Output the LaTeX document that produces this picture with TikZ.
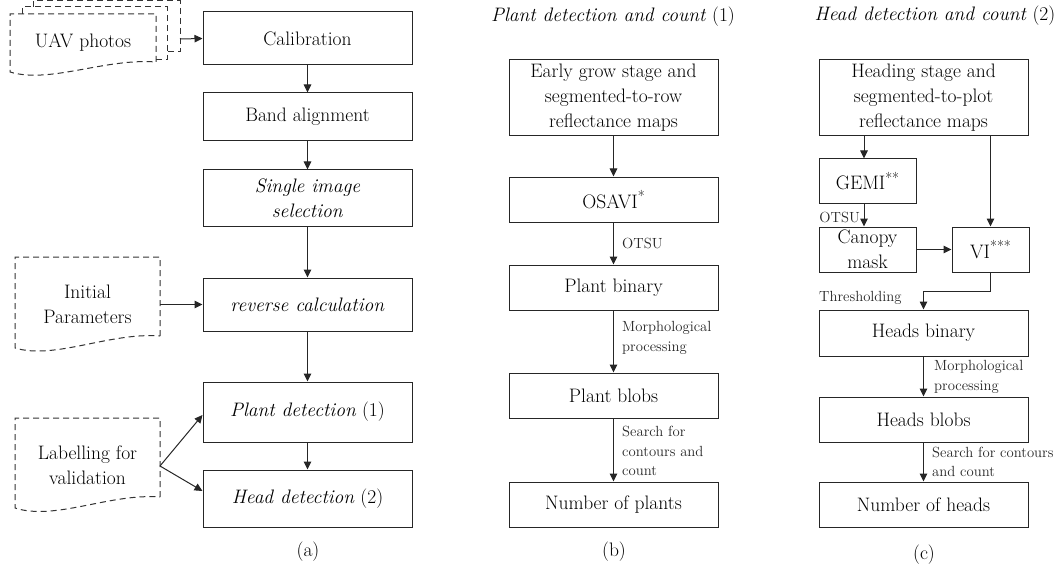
\documentclass[tikz,border=0pt]{standalone}
\usetikzlibrary{arrows.meta}
\newcommand\mainsz{\fontsize{19.5}{25}\selectfont}
\newcommand\smallsz{\fontsize{14.7}{19.5}\selectfont}
\newcommand\sst[1]{\raisebox{0.32em}{\fontsize{15}{15}\selectfont #1}}
\begin{document}
\begin{tikzpicture}[x=1pt,y=-1pt,
  box/.style={draw=black!85, line width=1pt, minimum width=209pt, inner sep=0pt, align=center, font=\mainsz},
  arr/.style={-{Triangle[length=8pt,width=7.5pt]}, line width=1pt, draw=black!85},
  lbl/.style={font=\smallsz, align=left, inner sep=0pt, text=black!85},
  txt/.style={font=\mainsz, align=center, inner sep=0pt},
  docline/.style={draw=black!80, line width=1pt, dash pattern=on 6pt off 4pt}]
\useasboundingbox (0,0) rectangle (1064,572);
% ---------- panel (a) ----------
\node[box, minimum height=53pt] (cal) at (307.5,38.5) {Calibration};
\node[box, minimum height=48pt] (band) at (307.5,117) {Band alignment};
\node[box, minimum height=56pt] (single) at (307.5,198) {\textit{Single image}\\\textit{selection}};
\node[box, minimum height=53pt] (rev) at (307.5,304.5) {\textit{reverse calculation}};
\node[box, minimum height=60pt] (plantd) at (307.5,412) {\textit{Plant detection} (1)};
\node[box, minimum height=57pt] (headd) at (307.5,498.5) {\textit{Head detection} (2)};
\node[txt] (capa) at (308,552) {(a)};
\draw[arr] (cal) -- (band);
\draw[arr] (band) -- (single);
\draw[arr] (single) -- (rev);
\draw[arr] (rev) -- (plantd);
\draw[arr] (plantd) -- (headd);
% documents
\draw[docline] (33,7) -- (33,1) -- (180,1) -- (180,52) -- (167,52);
\draw[docline] (22,14) -- (22,7) -- (167,7) -- (167,60) -- (156,60);
\draw[docline] (156,62) -- (156,14) -- (10,14) -- (10,72) .. controls (50,84) and (105,58) .. (156,62);
\node[txt] (uav) at (83,43) {UAV photos};
\coordinate (uavout) at (180,39);
\draw[arr] (uavout) -- (cal.west);
\draw[docline] (160,336) -- (160,257) -- (15,257) -- (15,348) .. controls (55,360) and (110,332) .. (160,336);
\node[txt] (init) at (87.5,304) {Initial\\Parameters};
\coordinate (initout) at (160,304.5);
\draw[arr] (initout) -- (rev.west);
\draw[docline] (160,497) -- (160,418) -- (15,418) -- (15,508) .. controls (55,521) and (110,493) .. (160,497);
\node[txt] (lab) at (87.5,465) {Labelling for\\validation};
\coordinate (labout) at (160,466);
\draw[arr] (labout) -- ([yshift=-3pt]plantd.west);
\draw[arr] (labout) -- ([yshift=7.5pt]headd.west);
% ---------- panel (b) ----------
\node[txt] (titb) at (613,17) {\textit{Plant detection and count} (1)};
\node[box, minimum height=76pt] (early) at (613.5,98) {Early grow stage and\\segmented-to-row\\reflectance maps};
\node[box, minimum height=45pt] (osavi) at (613.5,199.5) {OSAVI\sst{*}};
\node[box, minimum height=45pt] (pbin) at (613.5,287.5) {Plant binary};
\node[box, minimum height=45pt] (pblob) at (613.5,395.5) {Plant blobs};
\node[box, minimum height=45pt] (nplants) at (613.5,504.5) {Number of plants};
\node[txt] (capb) at (614,552) {(b)};
\draw[arr] (early) -- (osavi);
\draw[arr] (osavi) -- (pbin);
\draw[arr] (pbin) -- (pblob);
\draw[arr] (pblob) -- (nplants);
\node[lbl, anchor=west] (otsub) at (622,243) {OTSU};
\node[lbl, anchor=west] (morphb) at (622,338) {Morphological\\processing};
\node[lbl, anchor=west] (searchb) at (622,451) {Search for\\contours and\\count};
% ---------- panel (c) ----------
\node[txt] (titc) at (935,16) {\textit{Head detection and count} (2)};
\node[box, minimum height=76pt] (heading) at (923.5,98) {Heading stage and\\segmented-to-plot\\reflectance maps};
\node[box, minimum width=97pt, minimum height=44pt] (gemi) at (867.5,181) {GEMI\sst{**}};
\node[box, minimum width=97pt, minimum height=45pt] (canopy) at (867.5,249.5) {Canopy\\mask};
\node[box, minimum width=77pt, minimum height=45pt] (vi) at (990.5,249.5) {VI\sst{***}};
\node[box, minimum height=46pt] (hbin) at (923.5,333) {Heads binary};
\node[box, minimum height=45pt] (hblob) at (923.5,419.5) {Heads blobs};
\node[box, minimum height=45pt] (nheads) at (923.5,504.5) {Number of heads};
\node[txt] (capc) at (924,555) {(c)};
\draw[arr] (heading.south -| 864,0) -- (864,0 |- gemi.north);
\draw[arr] (gemi.south -| 864,0) -- (864,0 |- canopy.north);
\draw[arr] (heading.south -| vi.north) -- (vi.north);
\draw[arr] (canopy) -- (vi);
\draw[arr] (vi.south) -- ++(0,19) -| (hbin.north);
\draw[arr] (hbin) -- (hblob);
\draw[arr] (hblob) -- (nheads);
\node[lbl, anchor=east] (otsuc) at (860,217) {OTSU};
\node[lbl, anchor=west] (thr) at (819,298) {Thresholding};
\node[lbl, anchor=west] (morphc) at (934,377) {Morphological\\processing};
\node[lbl, anchor=west] (searchc) at (932,462) {Search for contours\\and count};
\end{tikzpicture}
\end{document}
